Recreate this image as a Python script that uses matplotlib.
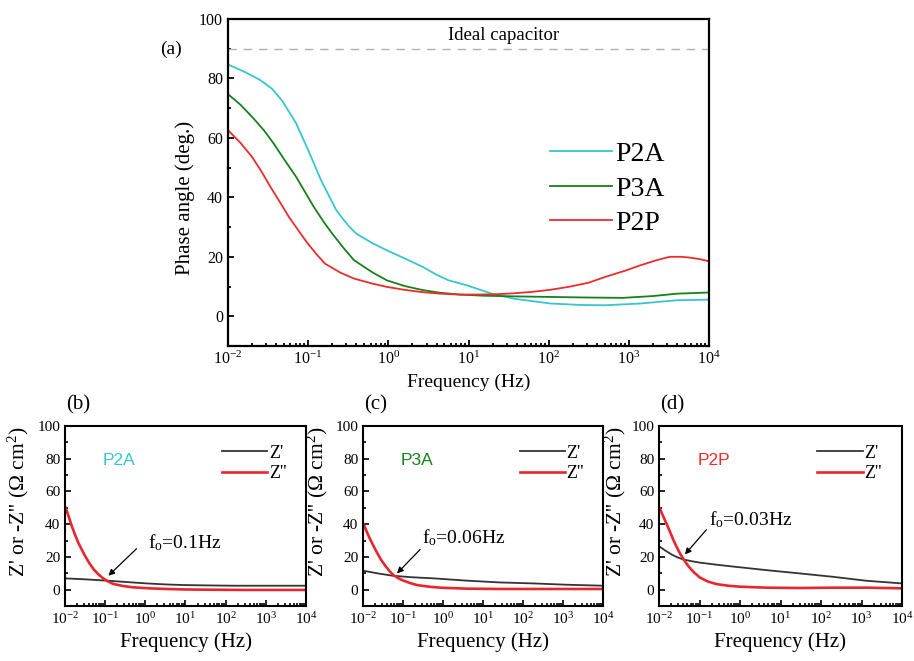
import numpy as np
import matplotlib
matplotlib.use("Agg")
import matplotlib.pyplot as plt
from matplotlib.ticker import FixedLocator, MultipleLocator, NullFormatter, LogFormatterSciNotation

plt.rcParams["font.family"] = ["Liberation Serif", "DejaVu Serif"]
plt.rcParams["mathtext.fontset"] = "custom"
plt.rcParams["mathtext.rm"] = "Liberation Serif"
plt.rcParams["mathtext.it"] = "Liberation Serif:italic"

# ---------------- Phase angle data (log10 frequency, degrees) ----------------
p2a_logf = [-2.0, -1.8, -1.6, -1.45, -1.33, -1.22, -1.15, -1.0, -0.84, -0.65, -0.5,
            -0.4, -0.2, -0.02, 0.2, 0.43, 0.6, 0.75, 0.98, 1.29, 1.57, 2.02, 2.4,
            2.7, 3.15, 3.6, 4.0]
p2a_phase = [84.7, 82.3, 79.5, 76.5, 72.7, 68.0, 64.9, 55.9, 45.8, 35.7, 30.5,
             27.8, 24.6, 22.2, 19.5, 16.6, 14.0, 12.1, 10.4, 7.6, 5.9, 4.3, 3.8,
             3.7, 4.3, 5.4, 5.6]

p3a_logf = [-2.0, -1.85, -1.7, -1.55, -1.43, -1.3, -1.15, -1.0, -0.93, -0.8, -0.7,
            -0.55, -0.43, -0.2, -0.02, 0.2, 0.43, 0.65, 0.89, 1.2, 1.57, 2.02,
            2.5, 2.93, 3.3, 3.6, 4.0]
p3a_phase = [74.7, 71.3, 67.1, 62.5, 58.1, 52.8, 46.9, 40.0, 36.8, 31.5, 27.8,
             22.7, 18.9, 14.8, 12.1, 10.2, 8.8, 7.9, 7.3, 6.9, 6.7, 6.5,
             6.3, 6.2, 6.8, 7.6, 8.0]

p2p_logf = [-2.0, -1.85, -1.7, -1.58, -1.47, -1.35, -1.24, -1.12, -1.02, -0.9,
            -0.79, -0.6, -0.43, -0.2, -0.02, 0.2, 0.43, 0.65, 0.89, 1.1, 1.34,
            1.55, 1.79, 2.02, 2.25, 2.5, 2.7, 2.95, 3.15, 3.35, 3.51, 3.65,
            3.74, 3.87, 4.0]
p2p_phase = [62.6, 58.5, 53.6, 48.6, 43.5, 38.3, 33.4, 28.8, 25.0, 21.0,
             17.7, 14.7, 12.7, 11.0, 9.9, 8.9, 8.1, 7.6, 7.3, 7.3, 7.4,
             7.7, 8.2, 8.9, 9.9, 11.3, 13.2, 15.3, 17.2, 18.9, 20.0, 20.0,
             19.8, 19.3, 18.5]

series_names = ["P2A", "P3A", "P2P"]
series_colors = ["#35c6d2", "#17801a", "#ee2b2b"]

# ---------------- Impedance data (log10 frequency, ohm cm2) ----------------
b_zr_logf = [-2.0, -1.5, -0.96, -0.5, 0.03, 0.5, 0.95, 1.5, 2.19, 3.0, 4.0]
b_zr = [6.9, 6.3, 5.5, 4.7, 3.8, 3.2, 2.8, 2.6, 2.4, 2.4, 2.4]
b_zi_logf = [-1.98, -1.9, -1.83, -1.75, -1.67, -1.58, -1.5, -1.4, -1.29, -1.17,
             -1.05, -0.92, -0.8, -0.55, -0.3, 0.1, 0.53, 1.0, 1.36, 2.5, 4.0]
b_zi = [49.9, 44.0, 38.8, 33.5, 28.7, 24.3, 20.6, 16.4, 12.5, 9.4,
        6.9, 4.9, 3.5, 2.2, 1.4, 0.8, 0.4, 0.1, 0.0, -0.2, -0.2]

c_zr_logf = [-1.98, -1.6, -1.26, -0.8, -0.24, 0.59, 1.42, 2.26, 3.09, 4.0]
c_zr = [11.5, 9.8, 8.5, 7.6, 6.9, 5.5, 4.4, 3.8, 3.0, 2.4]
c_zi_logf = [-1.98, -1.9, -1.82, -1.73, -1.65, -1.55, -1.44, -1.34, -1.24,
             -1.12, -0.99, -0.82, -0.65, -0.35, -0.07, 0.59, 1.42, 2.5, 4.0]
c_zi = [39.8, 35.0, 30.7, 26.4, 22.6, 18.3, 14.5, 11.4, 8.9,
        7.0, 5.5, 4.0, 2.8, 1.8, 1.2, 0.6, 0.4, 0.4, 0.4]

d_zr_logf = [-1.98, -1.84, -1.69, -1.55, -1.41, -1.2, -0.99, -0.6, -0.17, 0.66,
             1.48, 2.31, 3.13, 4.0]
d_zr = [26.2, 23.8, 21.5, 19.8, 18.5, 17.4, 16.5, 15.3, 14.1, 11.9,
        9.9, 7.8, 5.4, 3.8]
d_zi_logf = [-1.98, -1.9, -1.82, -1.73, -1.65, -1.57, -1.49, -1.39, -1.28,
             -1.14, -0.99, -0.8, -0.58, -0.3, 0.0, 0.66, 1.48, 2.31, 3.13, 4.0]
d_zi = [49.7, 45.0, 40.6, 35.5, 30.6, 26.4, 22.5, 18.4, 14.5,
        10.6, 7.4, 5.0, 3.4, 2.4, 1.8, 1.2, 1.0, 1.2, 1.2, 0.8]

panel_tags = ["(b)", "(c)", "(d)"]
sample_names = ["P2A", "P3A", "P2P"]
sample_colors = ["#35c6d2", "#17801a", "#ee2b2b"]
crossover_text = ["0.1Hz", "0.06Hz", "0.03Hz"]
# arrow head / tail (log10 f, value) and text anchor for each crossover
arrow_heads = [(-0.92, 8.5), (-1.15, 9.9), (-1.36, 21.5)]
arrow_tails = [(-0.22, 25.0), (-0.57, 24.6), (-0.83, 36.6)]
text_anchor = [(0.07, 29.0), (-0.53, 31.5), (-0.76, 42.5)]

decades = np.arange(-2, 5)
major_freqs = 10.0 ** decades
minor_freqs = np.array([m * 10.0 ** d for d in decades[:-1] for m in range(2, 10)])

W, H = 914, 661
fig = plt.figure(figsize=(W / 100, H / 100), dpi=100)


def px_axes(left, top, right, bottom):
    return fig.add_axes([left / W, 1 - bottom / H, (right - left) / W, (bottom - top) / H])


def style_log_axes(ax, spine_w, label_size):
    ax.set_xscale("log")
    ax.set_xlim(1e-2, 1e4)
    ax.xaxis.set_major_locator(FixedLocator(major_freqs))
    ax.xaxis.set_major_formatter(LogFormatterSciNotation())
    ax.xaxis.set_minor_locator(FixedLocator(minor_freqs))
    ax.xaxis.set_minor_formatter(NullFormatter())
    ax.set_ylim(-10, 100)
    ax.yaxis.set_major_locator(FixedLocator([0, 20, 40, 60, 80, 100]))
    ax.yaxis.set_minor_locator(FixedLocator([-10, 10, 30, 50, 70, 90]))
    ax.tick_params(which="both", direction="in", top=False, right=False,
                   labelsize=label_size, width=spine_w * 0.8)
    ax.tick_params(which="major", length=4.5)
    ax.tick_params(which="minor", length=2.5)
    for s in ax.spines.values():
        s.set_linewidth(spine_w)


# ---------------- Panel (a): phase angle ----------------
ax = px_axes(228, 19, 709, 346)
style_log_axes(ax, 1.6, 11.5)
for lf, ph, name, col in zip([p2a_logf, p3a_logf, p2p_logf],
                              [p2a_phase, p3a_phase, p2p_phase],
                              series_names, series_colors):
    ax.plot(10 ** np.array(lf), ph, color=col, lw=1.3, label=name)
ax.axhline(90, color="#b0b0b0", lw=1.0, ls=(0, (6, 5)))
ax.text(0.572, 94.6, "Ideal capacitor", transform=ax.get_yaxis_transform(),
        ha="center", va="center", fontsize=13.5)
ax.set_xlabel("Frequency (Hz)", fontsize=14, labelpad=4)
ax.set_ylabel("Phase angle (deg.)", fontsize=15)
ax.yaxis.set_label_coords(-0.069, 0.453)
leg = ax.legend(loc="upper left", bbox_to_anchor=(0.63, 0.685), frameon=False,
                fontsize=20, handlelength=2.2, handletextpad=0.12,
                labelspacing=0.33, borderpad=0.2)
fig.text(171 / W, 1 - 49 / H, "(a)", ha="center", va="center", fontsize=14)

# ---------------- Panels (b)-(d): impedance components ----------------
panel_boxes = [(65, 426, 306, 606), (363, 426, 603, 606), (659, 426, 902, 606)]
ylabel_right = [31, 330, 628]
zr_sets = [(b_zr_logf, b_zr), (c_zr_logf, c_zr), (d_zr_logf, d_zr)]
zi_sets = [(b_zi_logf, b_zi), (c_zi_logf, c_zi), (d_zi_logf, d_zi)]

for i in range(3):
    l, t, r, b = panel_boxes[i]
    axi = px_axes(l, t, r, b)
    style_log_axes(axi, 1.5, 11)
    zf, zv = zr_sets[i]
    axi.plot(10 ** np.array(zf), zv, color="#333333", lw=1.3, label="Z'")
    zf, zv = zi_sets[i]
    axi.plot(10 ** np.array(zf), zv, color="#e8262c", lw=1.9, label="Z''")
    axi.set_xlabel("Frequency (Hz)", fontsize=15, labelpad=4)
    axi.set_ylabel("Z' or -Z'' (Ω cm$^2$)", fontsize=15.5)
    axi.yaxis.set_label_coords((ylabel_right[i] - l) / (r - l), 0.578)
    axi.legend(loc="upper left", bbox_to_anchor=(0.6, 0.967), frameon=False,
               fontsize=13, handlelength=2.5, handletextpad=0.1,
               labelspacing=0.2, borderpad=0.2)
    axi.text(0.158, 79, sample_names[i], transform=axi.get_yaxis_transform(),
             color=sample_colors[i], fontsize=12.5,
             family=["Liberation Sans", "DejaVu Sans"], va="center", ha="left")
    hx, hy = arrow_heads[i]
    tx, ty = arrow_tails[i]
    axi.annotate("", xy=(10 ** hx, hy), xytext=(10 ** tx, ty),
                 arrowprops=dict(arrowstyle="-|>", color="black", lw=0.9,
                                 mutation_scale=9, shrinkA=0, shrinkB=0))
    ax_, ay_ = text_anchor[i]
    axi.text(10 ** ax_, ay_, "f$_\\mathrm{o}$=" + crossover_text[i],
             fontsize=14, ha="left", va="center")
    fig.text((l + 13) / W, 1 - 405 / H, panel_tags[i], ha="center",
             va="center", fontsize=15)

fig.savefig("out.png", dpi=100)
